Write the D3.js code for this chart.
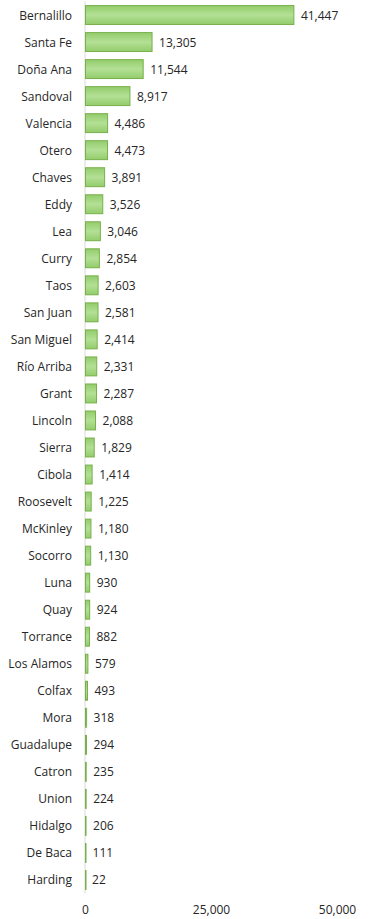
<!DOCTYPE html>
<html><head><meta charset="utf-8">
<script src="https://cdn.jsdelivr.net/npm/d3@7"></script>
<style>
html,body{margin:0;padding:0;background:#fff;}
svg{display:block;font-family:"Open Sans",sans-serif;}
</style></head>
<body>
<svg id="chart" width="371" height="919"></svg>
<script>
const counties = ["Bernalillo","Santa Fe","Doña Ana","Sandoval","Valencia","Otero","Chaves","Eddy","Lea","Curry","Taos","San Juan","San Miguel","Río Arriba","Grant","Lincoln","Sierra","Cibola","Roosevelt","McKinley","Socorro","Luna","Quay","Torrance","Los Alamos","Colfax","Mora","Guadalupe","Catron","Union","Hidalgo","De Baca","Harding"];
const values = [41447,13305,11544,8917,4486,4473,3891,3526,3046,2854,2603,2581,2414,2331,2287,2088,1829,1414,1225,1180,1130,930,924,882,579,493,318,294,235,224,206,111,22];
const xTicks = [0,25000,50000];

const svg = d3.select("#chart");
const x = d3.scaleLinear().domain([0,50000]).range([85,337]);
const y = d3.scaleBand().domain(counties).range([1.5,893.5]).paddingInner(0.3).paddingOuter(0.15);

const defs = svg.append("defs");
const g = defs.append("linearGradient").attr("id","barGrad").attr("x1",0).attr("y1",0).attr("x2",0).attr("y2",1);
g.append("stop").attr("offset","0%").attr("stop-color","#93cc6c");
g.append("stop").attr("offset","50%").attr("stop-color","#b3e095");
g.append("stop").attr("offset","100%").attr("stop-color","#93cc6c");

// axis line
svg.append("line").attr("x1",x(0)).attr("x2",x(0)).attr("y1",1.5).attr("y2",893.5)
  .attr("stroke","#d9d9d9").attr("stroke-width",1);

const data = counties.map((c,i)=>({c, v: values[i]}));

svg.append("g").selectAll("rect").data(data).join("rect")
  .attr("x", x(0)+0.5)
  .attr("y", d=>y(d.c))
  .attr("width", d=>Math.max(0.5, x(d.v)-x(0)-0.5))
  .attr("height", y.bandwidth())
  .attr("fill","url(#barGrad)")
  .attr("stroke","#78b04a").attr("stroke-width",1);

svg.append("g").selectAll("text").data(data).join("text")
  .attr("x", 72).attr("y", d=>y(d.c)+y.bandwidth()/2)
  .attr("text-anchor","end").attr("dominant-baseline","central")
  .attr("font-size",12).attr("fill","#262626").text(d=>d.c);

const fmt = d3.format(",");
svg.append("g").selectAll("text").data(data).join("text")
  .attr("x", d=>x(d.v)+7).attr("y", d=>y(d.c)+y.bandwidth()/2)
  .attr("dominant-baseline","central")
  .attr("font-size",12).attr("fill","#262626").text(d=>fmt(d.v));

const xAxis = d3.axisBottom(x).tickValues(xTicks).tickFormat(fmt).tickSize(0);
const ax = svg.append("g").attr("transform","translate(0,902)").call(xAxis);
ax.select(".domain").remove();
ax.selectAll("text").attr("font-size",12).attr("fill","#262626").attr("font-family","Open Sans, sans-serif");
</script>
</body></html>
